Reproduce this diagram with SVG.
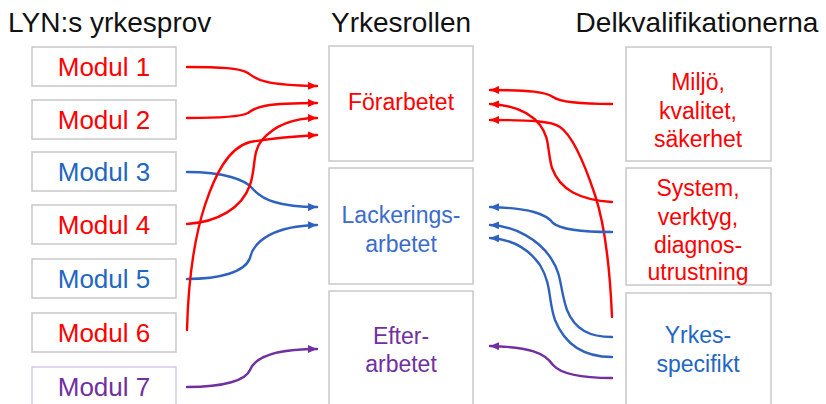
<svg xmlns="http://www.w3.org/2000/svg" width="826" height="404" viewBox="0 0 826 404">
<style>
.bg{fill:#ffffff}
.box{fill:#ffffff;stroke:#c8c8c8;stroke-width:1.5}
.boxp{fill:#ffffff;stroke:#d9c8ea;stroke-width:1.5}
.title{font-family:"Liberation Sans",Arial,sans-serif;font-size:28px;fill:#111111}
.mt{font-family:"Liberation Sans",Arial,sans-serif;font-size:26px;text-anchor:middle}
.nt{font-family:"Liberation Sans",Arial,sans-serif;font-size:23px;text-anchor:middle}
.red{fill:#ff0000}
.blue{fill:#2266c4}
.lblue{fill:#3a6ccc}
.purple{fill:#7030a0}
.c{fill:none;stroke-width:2.4;stroke-linecap:round}
.cr{stroke:#ff0000;marker-end:url(#ar)}
.cb{stroke:#2f62be;marker-end:url(#ab)}
.cp{stroke:#7030a0;marker-end:url(#ap)}
</style>
<defs>
<marker id="ar" markerUnits="userSpaceOnUse" markerWidth="12" markerHeight="10" refX="9" refY="4" orient="auto"><path d="M0,0 L9,4 L0,8 Z" fill="#ff0000"/></marker>
<marker id="ab" markerUnits="userSpaceOnUse" markerWidth="12" markerHeight="10" refX="9" refY="4" orient="auto"><path d="M0,0 L9,4 L0,8 Z" fill="#2f62be"/></marker>
<marker id="ap" markerUnits="userSpaceOnUse" markerWidth="12" markerHeight="10" refX="9" refY="4" orient="auto"><path d="M0,0 L9,4 L0,8 Z" fill="#7030a0"/></marker>
</defs>
<rect class="bg" x="0" y="0" width="826" height="404"/>

<text class="title" x="8" y="32">LYN:s yrkesprov</text>
<text class="title" x="401" y="32" text-anchor="middle">Yrkesrollen</text>
<text class="title" x="697" y="32" text-anchor="middle">Delkvalifikationerna</text>

<g id="modul1"><rect class="box" x="32" y="47" width="144" height="39"/><text class="mt red" x="104" y="76">Modul 1</text></g>
<g id="modul2"><rect class="box" x="32" y="100" width="144" height="39"/><text class="mt red" x="104" y="129">Modul 2</text></g>
<g id="modul3"><rect class="box" x="32" y="152" width="144" height="39"/><text class="mt blue" x="104" y="181">Modul 3</text></g>
<g id="modul4"><rect class="box" x="32" y="205" width="144" height="39"/><text class="mt red" x="104" y="234">Modul 4</text></g>
<g id="modul5"><rect class="box" x="32" y="259" width="144" height="39"/><text class="mt blue" x="104" y="288">Modul 5</text></g>
<g id="modul6"><rect class="box" x="32" y="313" width="144" height="39"/><text class="mt red" x="104" y="342">Modul 6</text></g>
<g id="modul7"><rect class="boxp" x="32" y="367" width="144" height="45"/><text class="mt purple" x="104" y="396">Modul 7</text></g>

<g id="forarbetet"><rect class="box" x="329" y="46" width="144" height="115"/><text class="nt red" x="401" y="110">Förarbetet</text></g>
<g id="lackering"><rect class="box" x="329" y="168" width="144" height="116"/><text class="nt lblue" x="401" y="223">Lackerings-</text><text class="nt lblue" x="401" y="252">arbetet</text></g>
<g id="efterarbetet"><rect class="box" x="329" y="291" width="144" height="120"/><text class="nt purple" x="401" y="344">Efter-</text><text class="nt purple" x="401" y="372">arbetet</text></g>

<g id="miljo"><rect class="box" x="626" y="47" width="145" height="114"/><text class="nt red" x="698" y="90">Miljö,</text><text class="nt red" x="698" y="118.5">kvalitet,</text><text class="nt red" x="698" y="147">säkerhet</text></g>
<g id="system"><rect class="box" x="626" y="168" width="145" height="117"/><text class="nt red" x="698" y="196">System,</text><text class="nt red" x="698" y="224.5">verktyg,</text><text class="nt red" x="698" y="252.5">diagnos-</text><text class="nt red" x="698" y="280">utrustning</text></g>
<g id="yrkesspecifikt"><rect class="box" x="626" y="293" width="145" height="120"/><text class="nt blue" x="698" y="343">Yrkes-</text><text class="nt blue" x="698" y="372">specifikt</text></g>

<g id="connectors">
<path class="c cr" d="M187,67 C220,67 240,68 248,73 C256,79 262,85 317,86"/>
<path class="c cr" d="M187,118 C220,118 240,117 248,113 C255,107 265,103 317,103"/>
<path class="c cb" d="M187,172 C225,172 245,180 252,188 C262,200 280,207 317,207"/>
<path class="c cr" d="M187,224 C218,222 242,208 250,185 C256,168 252,152 262,140 C275,125 295,118 317,118"/>
<path class="c cb" d="M187,279 C220,279 245,272 250,258 C254,240 275,226 317,225"/>
<path class="c cr" d="M187,330 C188,290 192,245 205,205 C215,175 228,148 250,142 C275,138 300,136 317,135"/>
<path class="c cp" d="M187,387 C225,387 246,380 250,370 C256,355 280,349 317,349"/>

<path class="c cr" d="M612,104 C580,104 560,102 553,97 C546,92 530,90 490,90"/>
<path class="c cr" d="M612,202 C580,200 560,190 552,168 C547,150 550,138 540,125 C530,112 512,105 490,104"/>
<path class="c cr" d="M612,317 C610,270 605,225 595,195 C585,165 572,135 560,127 C552,121 530,120 490,120"/>
<path class="c cb" d="M612,232 C580,232 560,229 553,223 C546,214 530,208 490,207"/>
<path class="c cb" d="M612,337 C590,337 575,330 567,310 C560,290 562,275 552,260 C540,240 515,226 490,225"/>
<path class="c cb" d="M612,357 C585,357 565,345 555,320 C548,300 552,285 540,265 C528,248 510,239 490,238"/>
<path class="c cp" d="M612,378 C580,378 560,373 553,365 C545,353 530,347 490,346"/>
</g>
</svg>
